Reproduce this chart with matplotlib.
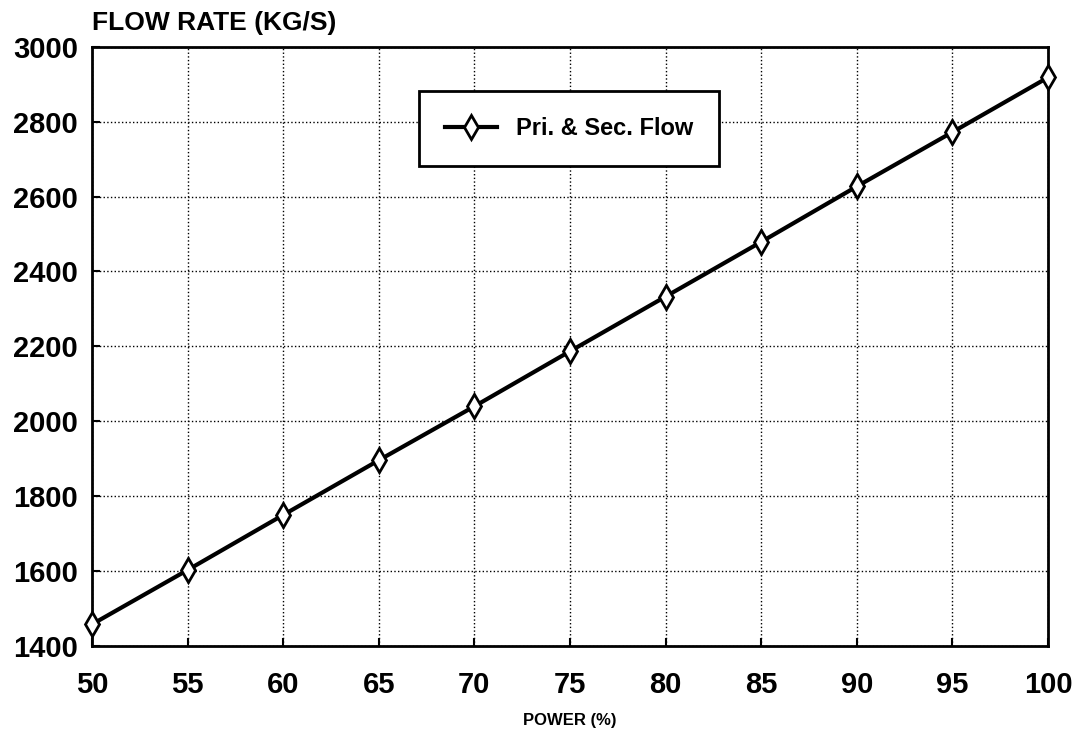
import matplotlib.pyplot as plt

# données
power = [50, 55, 60, 65, 70, 75, 80, 85, 90, 95, 100]
flow = [1458, 1603, 1750, 1896, 2040, 2187, 2333, 2479, 2627, 2772, 2918]

plt.rcParams['font.family'] = ['Liberation Sans', 'DejaVu Sans']
plt.rcParams['font.weight'] = 'bold'

fig, ax = plt.subplots(figsize=(10.76, 7.30), dpi=100)
fig.subplots_adjust(left=0.0855, right=0.974, top=0.936, bottom=0.115)

ax.plot(power, flow, color='black', linewidth=3, marker='d', markersize=12,
        markerfacecolor='white', markeredgecolor='black', markeredgewidth=2,
        label='Pri. & Sec. Flow', clip_on=False, zorder=5)

ax.set_xlim(50, 100)
ax.set_ylim(1400, 3000)
ax.set_xticks(power)
ax.set_yticks(range(1400, 3001, 200))
ax.grid(True, color='black', linestyle=':', linewidth=1)
ax.tick_params(direction='in', length=6, width=1.5, labelsize=21)
ax.tick_params(axis='x', pad=18)
ax.tick_params(axis='y', pad=10)
for sp in ax.spines.values():
    sp.set_linewidth(2)

ax.set_xlabel('POWER (%)', fontsize=12, fontweight='bold', labelpad=10)
ax.text(0, 1.02, 'FLOW RATE (KG/S)', transform=ax.transAxes, fontsize=19,
        fontweight='bold', ha='left', va='bottom')

leg = ax.legend(loc='upper left', bbox_to_anchor=(0.33, 0.945), fontsize=17,
                fancybox=False, framealpha=1, edgecolor='black',
                borderpad=1.1, handlelength=2.2)
leg.get_frame().set_linewidth(2)

fig.savefig('out.png', dpi=100)
